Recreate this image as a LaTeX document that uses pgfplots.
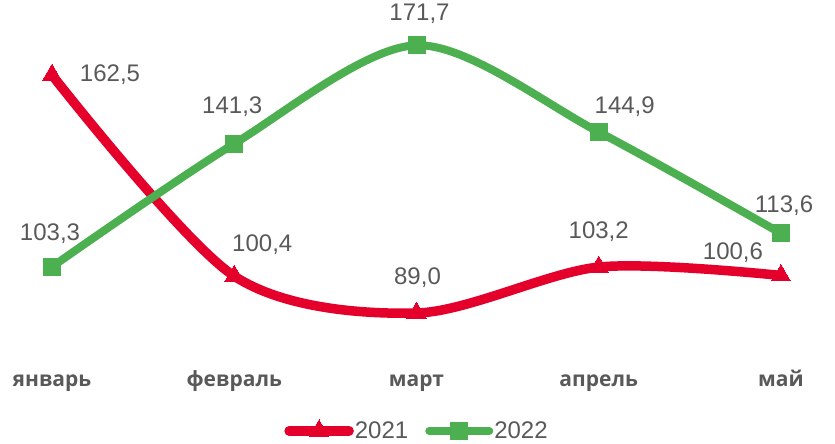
\documentclass[border=0pt]{standalone}
\usepackage{pgfplots}
\pgfplotsset{compat=1.18}
\usepackage{pgfplotstable}
\usepackage{fontspec}
\setmainfont{Liberation Sans}
\newfontfamily\opensans{Open Sans}
\definecolor{cred}{RGB}{228,0,43}
\definecolor{cgreen}{RGB}{76,175,80}
\definecolor{tgray}{RGB}{89,89,89}

\pgfplotstableread{
x y lab dx dy
0 162.5 162,5 58 0
1 100.4 100,4 28 31
2 89.0 89,0 1 35
3 103.2 103,2 0 35
4 100.6 100,6 -48 23
}\dataA
\pgfplotstableread{
x y lab dx dy
0 103.3 103,3 -2 33
1 141.3 141,3 -2 37
2 171.7 171,7 3 31
3 144.9 144,9 26 25
4 113.6 113,6 3 28
}\dataB

\begin{document}
\begin{tikzpicture}
\begin{axis}[name=a, scale only axis, width=831bp, height=340bp,
  xmin=-0.28, xmax=4.28, ymin=74.5, ymax=179.5,
  axis line style={draw=none}, major tick length=0pt, ytick=\empty,
  xtick={0,...,4}, xticklabels={январь,февраль,март,апрель,май},
  xticklabel style={font=\opensans\bfseries\fontsize{21bp}{25bp}\selectfont, text=tgray, anchor=base, yshift=-26bp},
  clip=false,
  legend columns=2,
  legend style={draw=none, at={(0.5,-0.207)}, anchor=center, font=\fontsize{24bp}{28bp}\selectfont, text=tgray,
    /tikz/every even column/.append style={column sep=16bp}, inner sep=1bp, nodes={inner sep=1bp}},
  legend image code/.code={\draw[mark repeat=2, mark phase=2, #1] plot coordinates {(0bp,0bp) (30bp,0bp) (60bp,0bp)};},
  point meta=explicit symbolic,
  visualization depends on={\thisrow{dx}\as\dx},
  visualization depends on={\thisrow{dy}\as\dy},
  nodes near coords,
  every node near coord/.style={anchor=center, xshift=\dx bp, yshift=\dy bp, font=\fontsize{24bp}{28bp}\selectfont, text=tgray},
]
\addplot[cred, line width=9.5bp, line cap=round, line join=round, smooth, mark=triangle*, mark size=11bp, mark options={line width=0pt, fill=cred}]
  table[x=x, y=y, meta=lab]{\dataA};
\addlegendentry{2021}
\addplot[cgreen, line width=8bp, line cap=round, line join=round, smooth, mark=square*, mark size=8.5bp, mark options={line width=0pt, fill=cgreen}]
  table[x=x, y=y, meta=lab]{\dataB};
\addlegendentry{2022}
\end{axis}
\pgfresetboundingbox
\path[use as bounding box] ([shift={(-1bp,-84bp)}]a.south west) rectangle ([shift={(834bp,360bp)}]a.south west);
\end{tikzpicture}
\end{document}
